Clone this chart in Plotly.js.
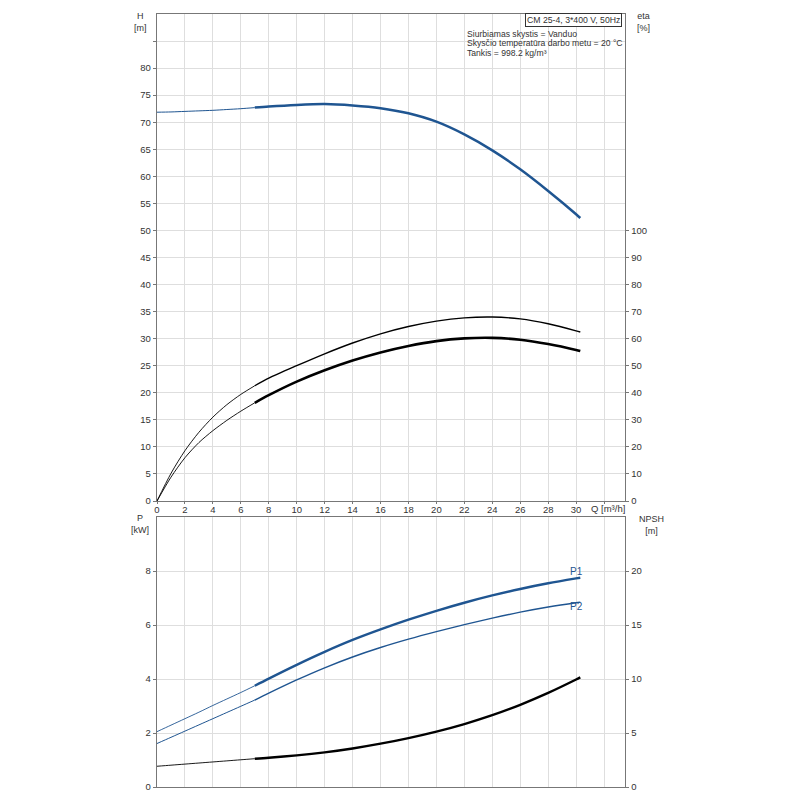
<!DOCTYPE html>
<html>
<head>
<meta charset="utf-8">
<script src="https://cdn.plot.ly/plotly-3.0.1.min.js"></script>
<style>
  html, body { margin: 0; padding: 0; background: #fff; }
  #chart { width: 800px; height: 800px; }
</style>
</head>
<body>
<div id="chart"></div>
<script>
// Flow points (m3/h), shared by every curve
var q = [0, 1, 2, 3, 4, 5, 6, 7, 8, 10, 12, 14, 16, 18, 20, 22, 24, 26, 28, 30, 30.3]

// Head H [m]
var head = [71.85, 71.9, 72.0, 72.1, 72.2, 72.35, 72.5, 72.7, 72.9, 73.2, 73.35, 73.1, 72.6, 71.65, 70.1, 67.75, 64.8, 61.3, 57.3, 53.0, 52.3]
// Efficiency curves eta [%]
var eta_upper = [0, 10.2, 18.6, 25.4, 31.0, 35.6, 39.4, 42.6, 45.4, 50.0, 54.4, 58.4, 61.8, 64.5, 66.5, 67.7, 68.0, 67.3, 65.5, 62.9, 62.45]
var eta_lower = [0, 8.8, 16.0, 21.6, 26.0, 29.8, 33.2, 36.3, 39.1, 44.1, 48.3, 51.9, 54.9, 57.3, 59.1, 60.1, 60.3, 59.6, 58.0, 55.8, 55.4]
// Power P1 / P2 [kW]
var p1 = [2.05, 2.29, 2.53, 2.77, 3.02, 3.26, 3.50, 3.75, 4.015, 4.525, 5.005, 5.445, 5.835, 6.195, 6.525, 6.825, 7.095, 7.335, 7.545, 7.725, 7.75]
var p2 = [1.61, 1.84, 2.07, 2.30, 2.53, 2.76, 2.99, 3.22, 3.475, 3.965, 4.415, 4.815, 5.165, 5.475, 5.755, 6.015, 6.255, 6.475, 6.665, 6.825, 6.846]
// NPSH [m]
var npsh = [1.92, 2.02, 2.12, 2.22, 2.32, 2.42, 2.52, 2.62, 2.71, 2.93, 3.21, 3.57, 4.01, 4.53, 5.13, 5.83, 6.65, 7.61, 8.71, 9.95, 10.15]

var q_ticks = [0, 2, 4, 6, 8, 10, 12, 14, 16, 18, 20, 22, 24, 26, 28, 30, 32]
var h_ticks = [0, 5, 10, 15, 20, 25, 30, 35, 40, 45, 50, 55, 60, 65, 70, 75, 80, 85]
var eta_ticks = [0, 10, 20, 30, 40, 50, 60, 70, 80, 90, 100]
var p_ticks = [0, 2, 4, 6, 8]
var npsh_ticks = [0, 5, 10, 15, 20]

var info_title = 'CM 25-4, 3*400 V, 50Hz'
var info_lines = ['Siurbiamas skystis = Vanduo', 'Skysčio temperatūra darbo metu = 20 °C', 'Tankis = 998.2 kg/m³']

var BLUE = '#1f5591'
var BLACK = '#000000'
var FONT = 'Liberation Sans, Arial, sans-serif'

// the part below Q = 7 is drawn thin, the rest thick
var SPLIT = 7

function segments(y, yaxis, xaxis, color, thin, thick) {
  return [
    {x: q.slice(0, SPLIT + 1), y: y.slice(0, SPLIT + 1), xaxis: xaxis, yaxis: yaxis,
     mode: 'lines', line: {color: color, width: thin, shape: 'spline', smoothing: 0.8}, hoverinfo: 'skip'},
    {x: q.slice(SPLIT), y: y.slice(SPLIT), xaxis: xaxis, yaxis: yaxis,
     mode: 'lines', line: {color: color, width: thick, shape: 'spline', smoothing: 0.8}, hoverinfo: 'skip'}
  ]
}

var data = []
  .concat(segments(head, 'y', 'x', BLUE, 1, 2.5))
  .concat(segments(eta_upper, 'y2', 'x', BLACK, 0.9, 1.4))
  .concat(segments(eta_lower, 'y2', 'x', BLACK, 0.9, 2.6))
  .concat(segments(p1, 'y3', 'x2', BLUE, 0.9, 2.4))
  .concat(segments(p2, 'y3', 'x2', BLUE, 1, 1.4))
  .concat(segments(npsh, 'y4', 'x2', BLACK, 0.9, 2.4))

// plot frame in pixels
var L = 157, R = 625, T = 14, B = 787
function px(xp) { return (xp - L) / (R - L) }
function py(yp) { return (B - yp) / (B - T) }

var tickfont = {family: FONT, size: 9.5, color: '#333'}
var frame = {showline: true, linecolor: '#777', linewidth: 1.3}
var grid = {showgrid: true, gridcolor: '#dedede', gridwidth: 1, zeroline: false}

function blanks(vals, keep) {
  return vals.map(v => (v <= keep ? String(v) : ''))
}

function label(text, xp, yp, anchor, size) {
  return {text: text, xref: 'paper', yref: 'paper', x: px(xp), y: py(yp),
          xanchor: anchor, yanchor: 'middle', showarrow: false, align: 'center',
          font: {family: FONT, size: size || 9.5, color: '#333'}}
}

var layout = {
  width: 800,
  height: 800,
  margin: {l: L, r: 800 - R, t: T, b: 800 - B, pad: 0},
  paper_bgcolor: '#fff',
  plot_bgcolor: '#fff',
  showlegend: false,
  font: {family: FONT, size: 9.5, color: '#333'},
  xaxis: Object.assign({
    domain: [0, 1], range: [0, 33.5], anchor: 'y',
    tickmode: 'array', tickvals: q_ticks, ticktext: blanks(q_ticks, 30),
    ticks: 'outside', ticklen: 2, tickcolor: '#777', tickfont: tickfont, mirror: true,
    ticklabelstandoff: -3
  }, frame, grid),
  yaxis: Object.assign({
    domain: [py(501), 1], range: [0, 90], anchor: 'x',
    tickmode: 'array', tickvals: h_ticks, ticktext: blanks(h_ticks, 80),
    ticks: 'outside', ticklen: 3, tickcolor: '#777', tickfont: tickfont
  }, frame, grid),
  yaxis2: Object.assign({
    overlaying: 'y', side: 'right', anchor: 'x', range: [0, 180],
    tickmode: 'array', tickvals: eta_ticks,
    ticks: 'outside', ticklen: 3, tickcolor: '#777', tickfont: tickfont,
    showgrid: false, zeroline: false
  }, frame),
  xaxis2: Object.assign({
    domain: [0, 1], range: [0, 33.5], anchor: 'y3',
    tickmode: 'array', tickvals: q_ticks, showticklabels: false, ticks: '', mirror: true
  }, frame, grid),
  yaxis3: Object.assign({
    domain: [0, py(517)], range: [0, 10], anchor: 'x2',
    tickmode: 'array', tickvals: p_ticks,
    ticks: 'outside', ticklen: 3, tickcolor: '#777', tickfont: tickfont
  }, frame, grid),
  yaxis4: Object.assign({
    overlaying: 'y3', side: 'right', anchor: 'x2', range: [0, 25],
    tickmode: 'array', tickvals: npsh_ticks,
    ticks: 'outside', ticklen: 3, tickcolor: '#777', tickfont: tickfont,
    showgrid: false, zeroline: false
  }, frame),
  annotations: [
    label('H<br>[m]', 140, 22, 'center', 9),
    label('eta<br>[%]', 643, 22, 'center', 9),
    label('P<br>[kW]', 140, 524, 'center', 9),
    label('NPSH<br>[m]', 651, 525, 'center', 9),
    label('Q [m³/h]', 589, 508, 'left'),
    {text: info_title, xref: 'paper', yref: 'paper', x: px(622), y: py(13), xanchor: 'right', yanchor: 'top', showarrow: false,
     font: {family: FONT, size: 8.7, color: '#333'},
     bordercolor: '#333', borderwidth: 1, borderpad: 1, bgcolor: '#fff'},
    label(info_lines[0], 465, 34, 'left', 8.6),
    label(info_lines[1], 465, 43.5, 'left', 8.6),
    label(info_lines[2], 465, 53, 'left', 8.6),
    {text: 'P1', xref: 'x2', yref: 'y3', x: 30, y: 8.0, xanchor: 'center', yanchor: 'middle', showarrow: false, font: {family: FONT, size: 10, color: BLUE}},
    {text: 'P2', xref: 'x2', yref: 'y3', x: 30, y: 6.7, xanchor: 'center', yanchor: 'middle', showarrow: false, font: {family: FONT, size: 10, color: BLUE}}
  ]
}

var config = {staticPlot: true}

Plotly.newPlot('chart', data, layout, config)
</script>
</body>
</html>
